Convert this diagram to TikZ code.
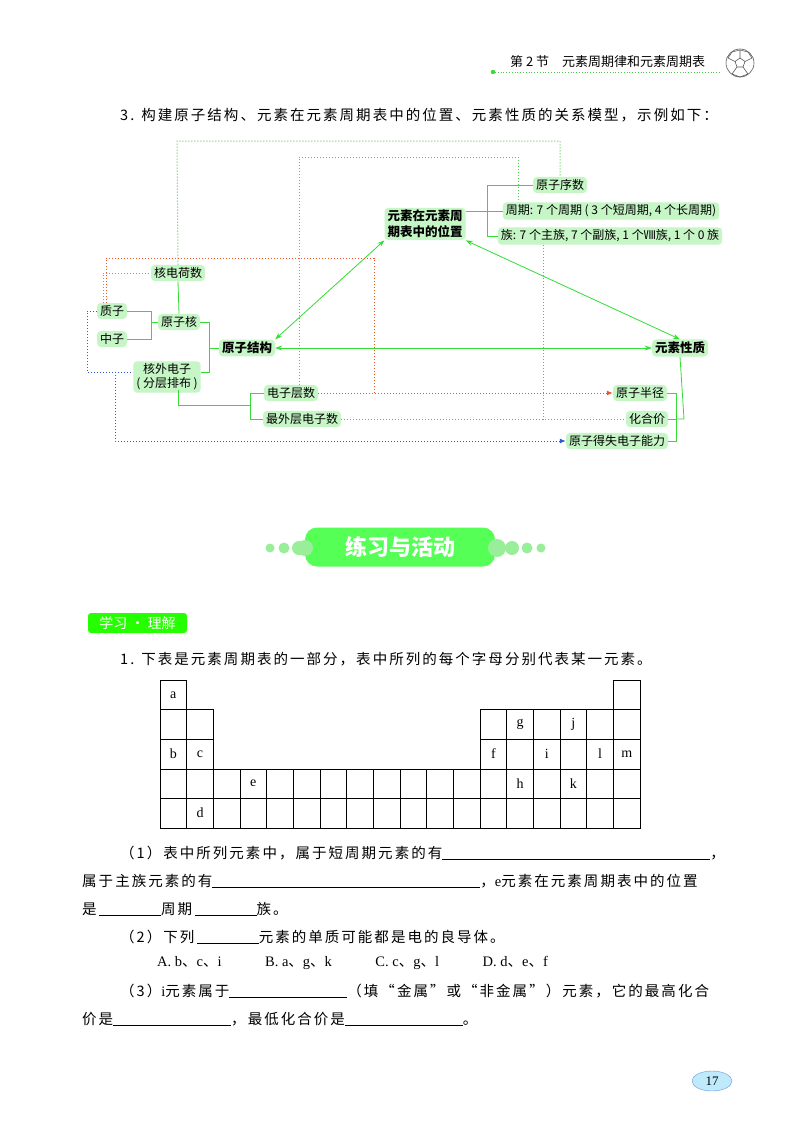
\documentclass[tikz,border=0pt]{standalone}
\usepackage{fontspec}
\setmainfont{Noto Sans CJK SC}
\newfontfamily\body[LetterSpace=14]{Noto Sans CJK SC}
\newfontfamily\lat{Liberation Serif}
\usetikzlibrary{arrows.meta,shapes.geometric}
\definecolor{bx}{HTML}{C6F5C6}
\definecolor{gl}{HTML}{33DD33}
\definecolor{gd}{HTML}{44CC44}
\definecolor{rd}{HTML}{EE5522}
\definecolor{bl}{HTML}{3355DD}
\definecolor{pill}{HTML}{55FF55}
\definecolor{lpill}{HTML}{99EE99}
\begin{document}
\begin{tikzpicture}[x=1pt,y=-1pt,
 bn/.style={fill=bx,rounded corners=4pt,inner xsep=3pt,inner ysep=2.5pt,font=\fontsize{12}{14}\selectfont,align=center},
 bb/.style={bn,font=\fontsize{12.5}{15.5}\selectfont\bfseries},
 tl/.style={draw=gl,line width=0.8pt},
 ar/.style={tl,{Stealth[length=7pt,width=5pt]}-{Stealth[length=7pt,width=5pt]}},
 gdot/.style={draw=gd,dotted,line width=1pt},
 rdot/.style={draw=rd,dotted,line width=1pt},
 bdot/.style={draw=bl,dotted,line width=1pt},
 txt/.style={anchor=west,inner sep=0pt,font=\body\fontsize{14.5}{18}\selectfont},
 cell/.style={draw,line width=0.6pt}]
\useasboundingbox[fill=white] (0,0) rectangle (800,1132);
% header
\node[anchor=west,inner sep=0pt,font=\fontsize{13}{14}\selectfont] (hd) at (510,62) {第 2 节\quad 元素周期律和元素周期表};
\fill[gl] (493,72) circle (2.2);
\draw[gd,dotted,line width=0.8pt] (495,72) -- (720,72);
\begin{scope}[shift={(740,63)},draw=gray!70!black,line width=0.6pt]
\draw (0,0) circle (14);
\draw (0,-5) -- (5,-1.5) -- (3,4) -- (-3,4) -- (-5,-1.5) -- cycle;
\draw (0,-5)--(0,-13) (5,-1.5)--(12,-5) (3,4)--(8,11) (-3,4)--(-8,11) (-5,-1.5)--(-12,-5);
\draw (-12,-5)--(-8,-11)--(0,-13)--(8,-11)--(12,-5) (-8,11)--(0,14)--(8,11);
\end{scope}
% title line
\node[txt] (t3) at (120,115) {3. 构建原子结构、元素在元素周期表中的位置、元素性质的关系模型，示例如下：};
% diagram nodes
\node[bn] (yxs) at (560,185) {原子序数};
\node[bn] (zq) at (611,211) {周期: 7 个周期 ( 3 个短周期, 4 个长周期)};
\node[bn] (zu) at (610,236) {族: 7 个主族, 7 个副族, 1 个Ⅷ族, 1 个 0 族};
\node[bb] (wz) at (425,224) {元素在元素周\\期表中的位置};
\node[bn] (hdh) at (178,273) {核电荷数};
\node[bn] (zz) at (112,311) {质子};
\node[bn] (zhz) at (112,339) {中子};
\node[bn] (yzh) at (179,322) {原子核};
\node[bb] (jg) at (247,348) {原子结构};
\node[bn] (hw) at (167,377) {核外电子\\( 分层排布 )};
\node[bn] (dzc) at (291,393) {电子层数};
\node[bn] (zwc) at (302,419) {最外层电子数};
\node[bb] (xz) at (680,348) {元素性质};
\node[bn] (bj) at (640,393) {原子半径};
\node[bn] (hhj) at (647,419) {化合价};
\node[bn] (ds) at (617,441) {原子得失电子能力};
% tree lines
\draw[tl] (zz.east) -- (151,311) |- (zhz.east);
\draw[tl] (151,322) -- (yzh.west);
\draw[tl] (hdh.south) -- (yzh.north);
\draw[tl] (yzh.east) -- (209,322) |- (hw.east |- 372,372);
\draw[tl] (209,348) -- (jg.west);
\draw[tl] (178,390) -- (178,405) -- (250,405);
\draw[tl] (dzc.west) -- (250,393) |- (zwc.west);
\draw[tl] (wz.east |- 0,211) -- (zq.west);
\draw[tl] (yxs.west) -- (487,185) |- (zu.west);
\draw[tl] (xz.south) -- (684,419) -- (676,419);
\draw[tl] (bj.east) -- (676,393) |- (ds.east);
\draw[tl] (hhj.east) -- (676,419);
% arrows
\draw[ar] (jg.east) -- (xz.west);
\draw[ar] (jg.north east) -- (wz.south west);
\draw[ar] (wz.south east) -- (xz.north);
% dotted
\draw[gdot] (hdh.north) -- (177,141) -- (560,141) -- (yxs.north);
\draw[gdot] (dzc.north -| 299,0) -- (299,157) -- (518,157) -- (zq.north -| 518,0);
\draw[gdot] (zwc.east) -- (hhj.west);
\draw[gdot] (zu.south -| 543,0) -- (543,419);
\draw[gdot] (zz.north -| 103,0) -- (103,273) -- (hdh.west);
\draw[rdot] (zz.north -| 106,0) -- (106,258) -- (374,258) -- (374,393);
\draw[rdot,-{Latex[length=6pt,width=5pt]}] (dzc.east) -- (bj.west);
\draw[bdot] (zz.west) -- (87,311) -- (87,372) -- (hw.west |- 0,372);
\draw[bdot,-{Latex[length=6pt,width=5pt]}] (115,372) -- (115,441) -- (ds.west);
% banner
\foreach \x/\r in {270/4.5,284/5.5,299/7}{\fill[lpill] (\x,548) circle (\r);}
\foreach \x/\r in {541/4.5,527/5.5,512/7}{\fill[lpill] (\x,548) circle (\r);}
\node[fill=pill,rounded corners=12pt,minimum width=190pt,minimum height=39pt,text=white,font=\fontsize{22}{24}\selectfont\bfseries] (ban) at (400,547) {练习与活动};
\fill[lpill] (305,548) circle (8);
\fill[lpill] (497,548) circle (9);
\node[fill=green!80!lime,text=white,minimum width=99pt,minimum height=20pt,inner sep=0pt,font=\fontsize{14}{15}\selectfont,rounded corners=3pt] (tag) at (137.5,623) {学习 · 理解};
% question
\node[txt] (q1) at (120,659) {1. 下表是元素周期表的一部分，表中所列的每个字母分别代表某一元素。};
% table
\def\cw{26.67}\def\rh{29.6}
\foreach \r/\cols in {0/{1,18},1/{1,2,13,14,15,16,17,18},2/{1,2,13,14,15,16,17,18},3/{1,2,3,4,5,6,7,8,9,10,11,12,13,14,15,16,17,18},4/{1,2,3,4,5,6,7,8,9,10,11,12,13,14,15,16,17,18}}{
 \foreach \c in \cols {\draw[cell] ({160+(\c-1)*\cw},{680+\r*\rh}) rectangle ++(\cw,\rh);}}
\foreach \c/\r/\t in {1/0/a,1/2/b,2/2/c,2/4/d,4/3/e,13/2/f,14/1/g,14/3/h,15/2/i,16/1/j,16/3/k,17/2/l,18/2/m}
 {\node[font=\lat\fontsize{14}{16}\selectfont] at ({160+(\c-0.5)*\cw},{680+(\r+0.5)*\rh}) {\t};}
\node[txt] (a1) at (120,853) {（1）表中所列元素中，属于短周期元素的有\underline{\makebox[268pt]{}}，};
\node[txt] (a2) at (82,881) {属于主族元素的有\underline{\makebox[268pt]{}}，{\lat e}元素在元素周期表中的位置};
\node[txt] (a3) at (82,909) {是\,\underline{\makebox[62pt]{}}周期\,\underline{\makebox[62pt]{}}族。};
\node[txt] (a4) at (120,937) {（2）下列\,\underline{\makebox[62pt]{}}元素的单质可能都是电的良导体。};
\node[txt] (a5) at (157,963) {{\lat A. b}、{\lat c}、{\lat i}\qquad\quad{\lat B. a}、{\lat g}、{\lat k}\qquad\quad{\lat C. c}、{\lat g}、{\lat l}\qquad\quad{\lat D. d}、{\lat e}、{\lat f}};
\node[txt] (a6) at (120,991) {（3）{\lat i}元素属于\underline{\makebox[118pt]{}}（填“金属”或“非金属”）元素，它的最高化合};
\node[txt] (a7) at (82,1019) {价是\underline{\makebox[118pt]{}}，最低化合价是\underline{\makebox[118pt]{}}。};
% page number
\node[fill=cyan!25,draw=cyan!50!blue!60,ellipse,minimum width=40pt,minimum height=20pt,inner sep=0pt,font=\lat\fontsize{13}{14}\selectfont] (pg) at (712,1081) {17};
\end{tikzpicture}
\end{document}
